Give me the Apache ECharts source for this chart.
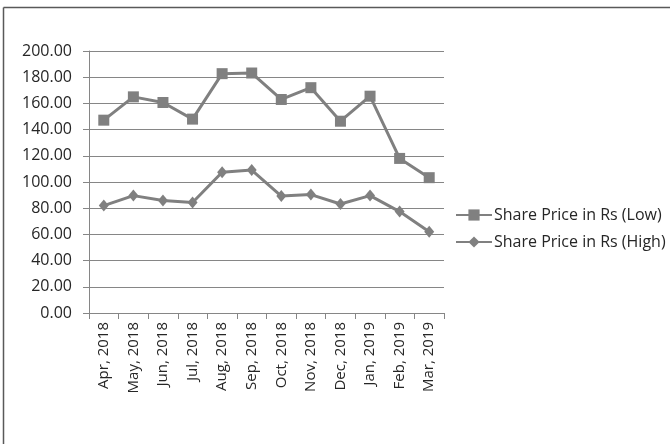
<!DOCTYPE html>
<html>
<head>
<meta charset="utf-8">
<script src="https://cdn.jsdelivr.net/npm/echarts@6/dist/echarts.min.js"></script>
<style>
  html, body { margin: 0; padding: 0; background: #fff; }
  #main { width: 670px; height: 444px; }
</style>
</head>
<body>
<div id="main"></div>
<script>
var myChart = echarts.init(document.getElementById('main'));

var months = ['Apr, 2018', 'May, 2018', 'Jun, 2018', 'Jul, 2018', 'Aug, 2018', 'Sep, 2018',
    'Oct, 2018', 'Nov, 2018', 'Dec, 2018', 'Jan, 2019', 'Feb, 2019', 'Mar, 2019'];
var priceLow = [147.2, 165.0, 160.7, 148.0, 182.7, 183.2, 163.0, 172.0, 146.4, 165.5, 118.0, 103.3];
var priceHigh = [82.0, 89.6, 85.8, 84.3, 107.4, 109.1, 89.3, 90.4, 83.2, 89.6, 77.4, 62.0];

var gray = '#808080';
var font = '"Open Sans", Lato, sans-serif';

option = {
    backgroundColor: '#fff',
    animation: false,
    textStyle: { fontFamily: font },
    grid: { left: 89, right: 226, top: 51, bottom: 131 },
    legend: {
        orient: 'vertical',
        left: 450,
        top: 202,
        itemGap: 11,
        itemWidth: 36,
        itemHeight: 14,
        textStyle: { fontSize: 16, color: '#262626', fontFamily: font, padding: [0, 0, 0, -3] },
        data: ['Share Price in Rs (Low)', 'Share Price in Rs (High)']
    },
    xAxis: {
        type: 'category',
        data: months,
        boundaryGap: true,
        axisLine: { lineStyle: { color: '#868686', width: 1 } },
        axisTick: { show: true, length: 6, lineStyle: { color: '#868686' } },
        axisLabel: { rotate: 90, color: '#262626', fontSize: 15, margin: 9, interval: 0 }
    },
    yAxis: {
        type: 'value',
        min: 0,
        max: 200,
        interval: 20,
        axisLine: { show: true, lineStyle: { color: '#868686' } },
        axisTick: { show: true, length: 6, lineStyle: { color: '#868686' } },
        axisLabel: {
            color: '#262626', fontSize: 16, margin: 17,
            formatter: function (v) { return v.toFixed(2); }
        },
        splitLine: { lineStyle: { color: '#868686', width: 1 } }
    },
    graphic: [
        { type: 'line', shape: { x1: 3.5, y1: 7.5, x2: 670, y2: 7.5 }, style: { stroke: '#595959', lineWidth: 1.5 } },
        { type: 'line', shape: { x1: 3.5, y1: 7.5, x2: 3.5, y2: 444 }, style: { stroke: '#595959', lineWidth: 1.5 } }
    ],
    series: [
        {
            name: 'Share Price in Rs (Low)',
            type: 'line',
            data: priceLow,
            symbol: 'rect',
            symbolSize: 11,
            lineStyle: { color: gray, width: 3 },
            itemStyle: { color: gray }
        },
        {
            name: 'Share Price in Rs (High)',
            type: 'line',
            data: priceHigh,
            symbol: 'diamond',
            symbolSize: [10, 12],
            lineStyle: { color: gray, width: 3 },
            itemStyle: { color: gray }
        }
    ]
};

myChart.setOption(option);
</script>
</body>
</html>
